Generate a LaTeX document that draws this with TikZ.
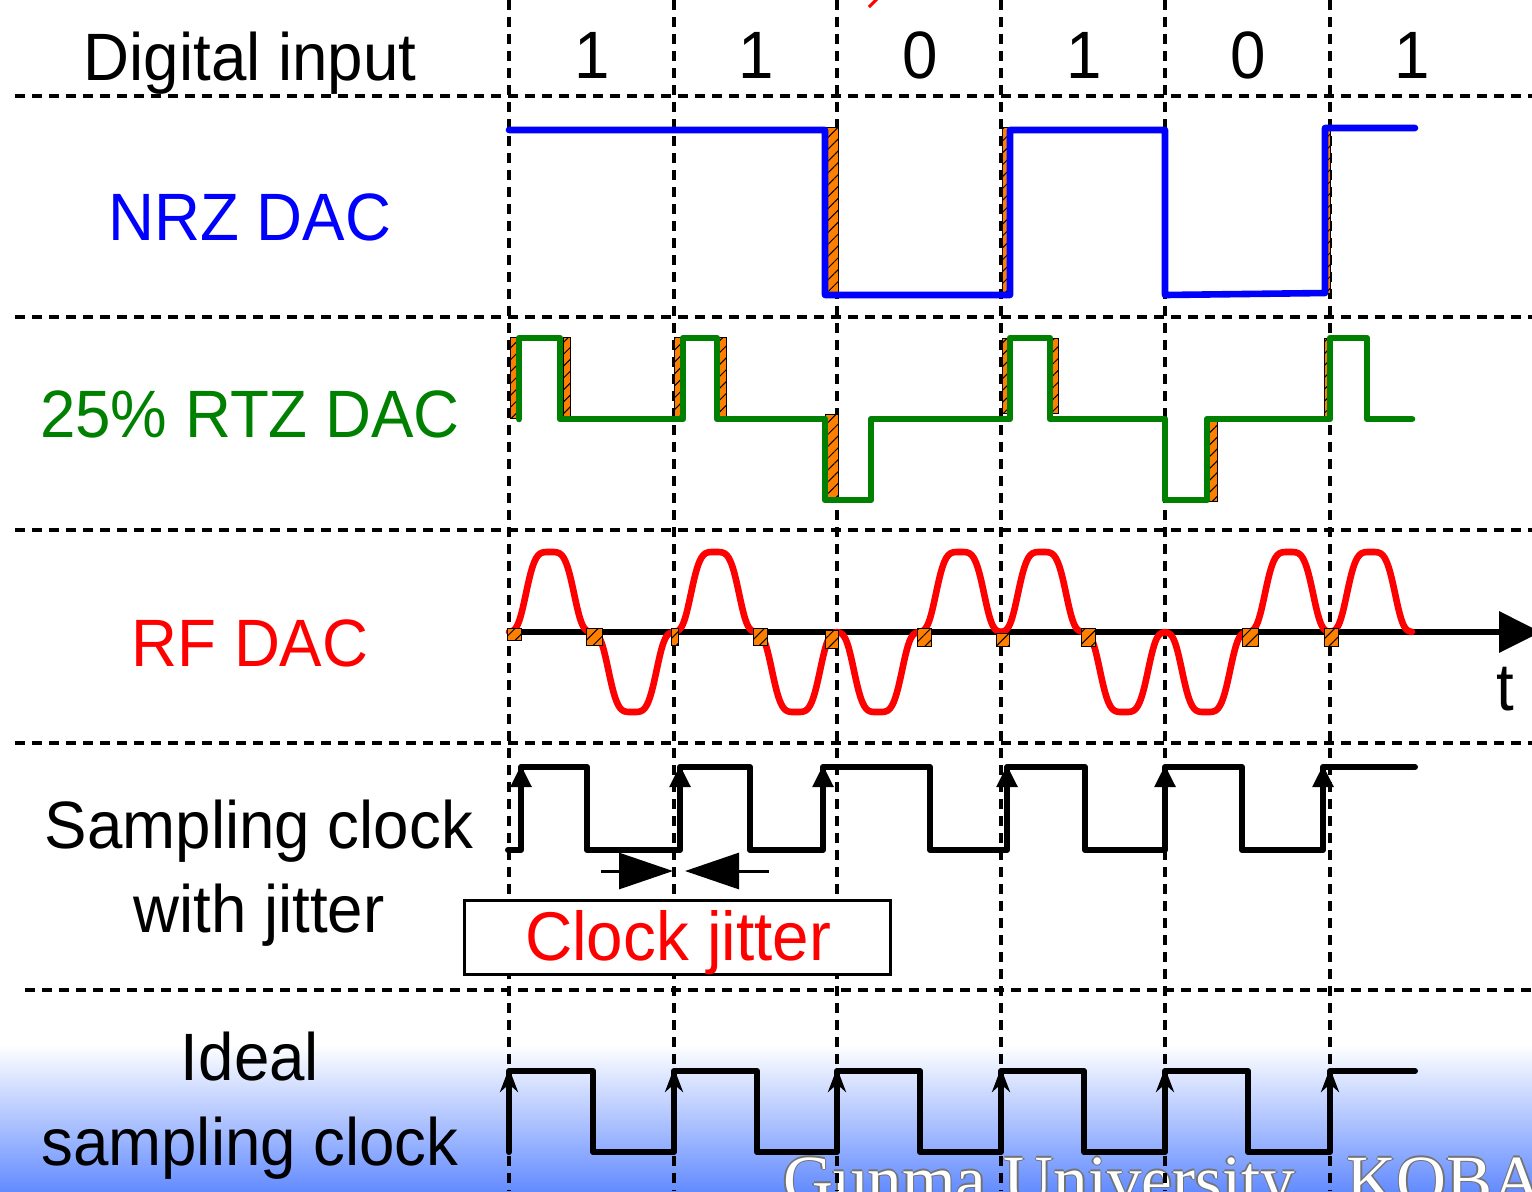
\documentclass[tikz,border=0pt]{standalone}
\usepackage{fontspec}
\setmainfont[FakeStretch=0.95]{Liberation Sans}
\newfontfamily\serifbig{Liberation Serif}
\usetikzlibrary{arrows.meta,patterns.meta}
\definecolor{hatchorange}{RGB}{255,128,0}
\definecolor{nrzblue}{RGB}{0,0,255}
\definecolor{rtzgreen}{RGB}{0,128,0}
\definecolor{rfred}{RGB}{255,0,0}
\definecolor{bgblue}{RGB}{100,140,255}
\begin{document}
\begin{tikzpicture}[x=0.5pt,y=-0.5pt,
  gridline/.style={black, line width=2pt, dash pattern=on 5pt off 3.5pt},
  lbl/.style={inner sep=0pt, anchor=base, font=\fontsize{33.5}{40}\selectfont},
  hatch/.style={fill=hatchorange, draw=black, line width=0.5pt,
     postaction={pattern={Lines[angle=45,distance=4.2pt,line width=0.5pt]}, pattern color=black}},
  nrz/.style={nrzblue, line width=3.3pt, line join=round, line cap=round},
  rtz/.style={rtzgreen, line width=3.3pt, line join=round, line cap=round},
  rf/.style={rfred, line width=3.3pt, line join=round, line cap=round},
  clk/.style={black, line width=3pt, line join=round, line cap=round},
  jitarrow/.style={black, line width=1.5pt, -{Triangle[length=27pt,width=18pt]}}
]
\useasboundingbox (0,0) rectangle (1532,1191);
\clip (0,0) rectangle (1532,1191);
% background gradient
\shade[top color=white, bottom color=bgblue] (0,1045) rectangle (1532,1191);
% bottom watermark text
\foreach \dx/\dy [count=\i] in {-1.5/0,1.5/0,0/-1.5,0/1.5}
  \node[inner sep=0pt, anchor=base west, font=\serifbig\fontsize{34.5}{40}\selectfont, text=black!55] (gush\i) at (783+\dx,1203+\dy) {Gunma University\ \ \ KOBA};
\node[inner sep=0pt, anchor=base west, font=\serifbig\fontsize{34.5}{40}\selectfont, text=white] (gu) at (783,1203) {Gunma University\ \ \ KOBA};
% grid
\foreach \x in {509,674,837,1001,1165,1330}
  \draw[gridline] (\x,0) -- (\x,1191);
\foreach \y in {96,317,530,743}
  \draw[gridline] (15,\y) -- (1532,\y);
\draw[gridline] (25,990) -- (1532,990);
% small red mark at top
\draw[rfred, line width=1.5pt] (877,-1) -- (869,7);
% labels
\node[lbl] (dig) at (250,80) {Digital input};
\foreach \x/\b [count=\i] in {592/1,756/1,920/0,1084/1,1248/0,1412/1}
  \node[lbl] (bit\i) at (\x,78) {\b};
\node[lbl, text=nrzblue] (nrzl) at (250,240) {NRZ DAC};
\node[lbl, text=rtzgreen] (rtzl) at (250,437) {25\% RTZ DAC};
\node[lbl, text=rfred] (rfl) at (250,666) {RF DAC};
\node[lbl] (sc1) at (259,848) {Sampling clock};
\node[lbl] (sc2) at (259,932) {with jitter};
\node[lbl] (id1) at (250,1080) {Ideal};
\node[lbl] (id2) at (250,1165) {sampling clock};
% NRZ
\foreach \a/\b/\c/\d in {825/127/838/294, 1002/127/1010/294, 1323/127/1330/293}
  \draw[hatch] (\a,\b) rectangle (\c,\d);
\draw[nrz] (509,130) -- (825,130) -- (825,295) -- (1010,295) -- (1010,130) -- (1165,130)
  -- (1165,295) -- (1325,293) -- (1325,128) -- (1415,128);
% RTZ
\foreach \a/\b/\c/\d in {510/337/517/418, 563/337/570/418, 674/337/681/418, 719/337/726/418,
  825/414/838/499, 1002/338/1009/413, 1051/338/1058/413, 1209/418/1217/501, 1324/338/1331/417}
  \draw[hatch] (\a,\b) rectangle (\c,\d);
\draw[rtz] (519,419) -- (519,338) -- (560,338) -- (560,419) -- (683,419) -- (683,338) -- (717,338)
  -- (717,419) -- (825,419) -- (825,500) -- (871,500) -- (871,419) -- (1010,419) -- (1010,338)
  -- (1050,338) -- (1050,419) -- (1165,419) -- (1165,500) -- (1207,500) -- (1207,419)
  -- (1330,419) -- (1330,338) -- (1367,338) -- (1367,419) -- (1412,419);
% RF
\coordinate (ax0) at (509,632);
\coordinate (ax1) at (1541,632);
\draw[line width=3.2pt, -{Triangle[length=21pt,width=20pt]}] (ax0) -- (ax1);
\node[lbl] (tl) at (1505,710) {t};
\foreach \c/\s in {550/1, 632.5/-1, 715/1, 796/-1, 878/-1, 960/1, 1042/1, 1124/-1,
  1206/-1, 1289/1, 1371/1}
  \draw[rf] plot[domain=-1:1, samples=61, variable=\u]
    ({\c+41*\u},{632-(\s)*80*exp(-(1.577*\u)^4)});
\foreach \a/\b/\c/\d in {507/628/521/640, 586/628/602/645, 671/628/678/645, 753/628/767/645,
  825/630/838/648, 917/628/931/646, 996/633/1009/646, 1081/628/1095/646, 1242/628/1258/646,
  1324/628/1338/646}
  \draw[hatch] (\a,\b) rectangle (\c,\d);
% sampling clock with jitter
\draw[clk] (508,850) -- (521,850) -- (521,767) -- (587,767) -- (587,850) -- (680,850) -- (680,767)
  -- (750,767) -- (750,850) -- (823,850) -- (823,767) -- (930,767) -- (930,850) -- (1007,850)
  -- (1007,767) -- (1085,767) -- (1085,850) -- (1165,850) -- (1165,767) -- (1242,767)
  -- (1242,850) -- (1323,850) -- (1323,767) -- (1415,767);
\foreach \x in {521,680,823,1007,1165,1323}
  \draw[clk, -{Triangle[open,length=11pt,width=10pt]}] (\x,845) -- (\x,765);
% jitter arrows
\coordinate (jl) at (601,871);
\coordinate (jt1) at (673,871);
\coordinate (jr) at (769,871);
\coordinate (jt2) at (685,871);
\draw[jitarrow] (jl) -- (jt1);
\draw[jitarrow] (jr) -- (jt2);
% clock jitter box
\node[draw, line width=1.5pt, fill=white, inner sep=0pt, minimum width=213pt, minimum height=37pt] (jbox) at (677,937.5) {};
\node[lbl, text=rfred, font=\fontsize{34.5}{40}\selectfont] (jtxt) at (678,960) {Clock jitter};
% ideal sampling clock
\draw[clk] (509,1152) -- (509,1071) -- (593,1071) -- (593,1152) -- (674,1152) -- (674,1071)
  -- (757,1071) -- (757,1152) -- (837,1152) -- (837,1071) -- (920,1071) -- (920,1152)
  -- (1001,1152) -- (1001,1071) -- (1084,1071) -- (1084,1152) -- (1165,1152) -- (1165,1071)
  -- (1248,1071) -- (1248,1152) -- (1330,1152) -- (1330,1071) -- (1415,1071);
\foreach \x in {509,674,837,1001,1165,1330}
  \draw[clk, -{Stealth[length=12pt,width=9pt]}] (\x,1140) -- (\x,1068);
\end{tikzpicture}
\end{document}
